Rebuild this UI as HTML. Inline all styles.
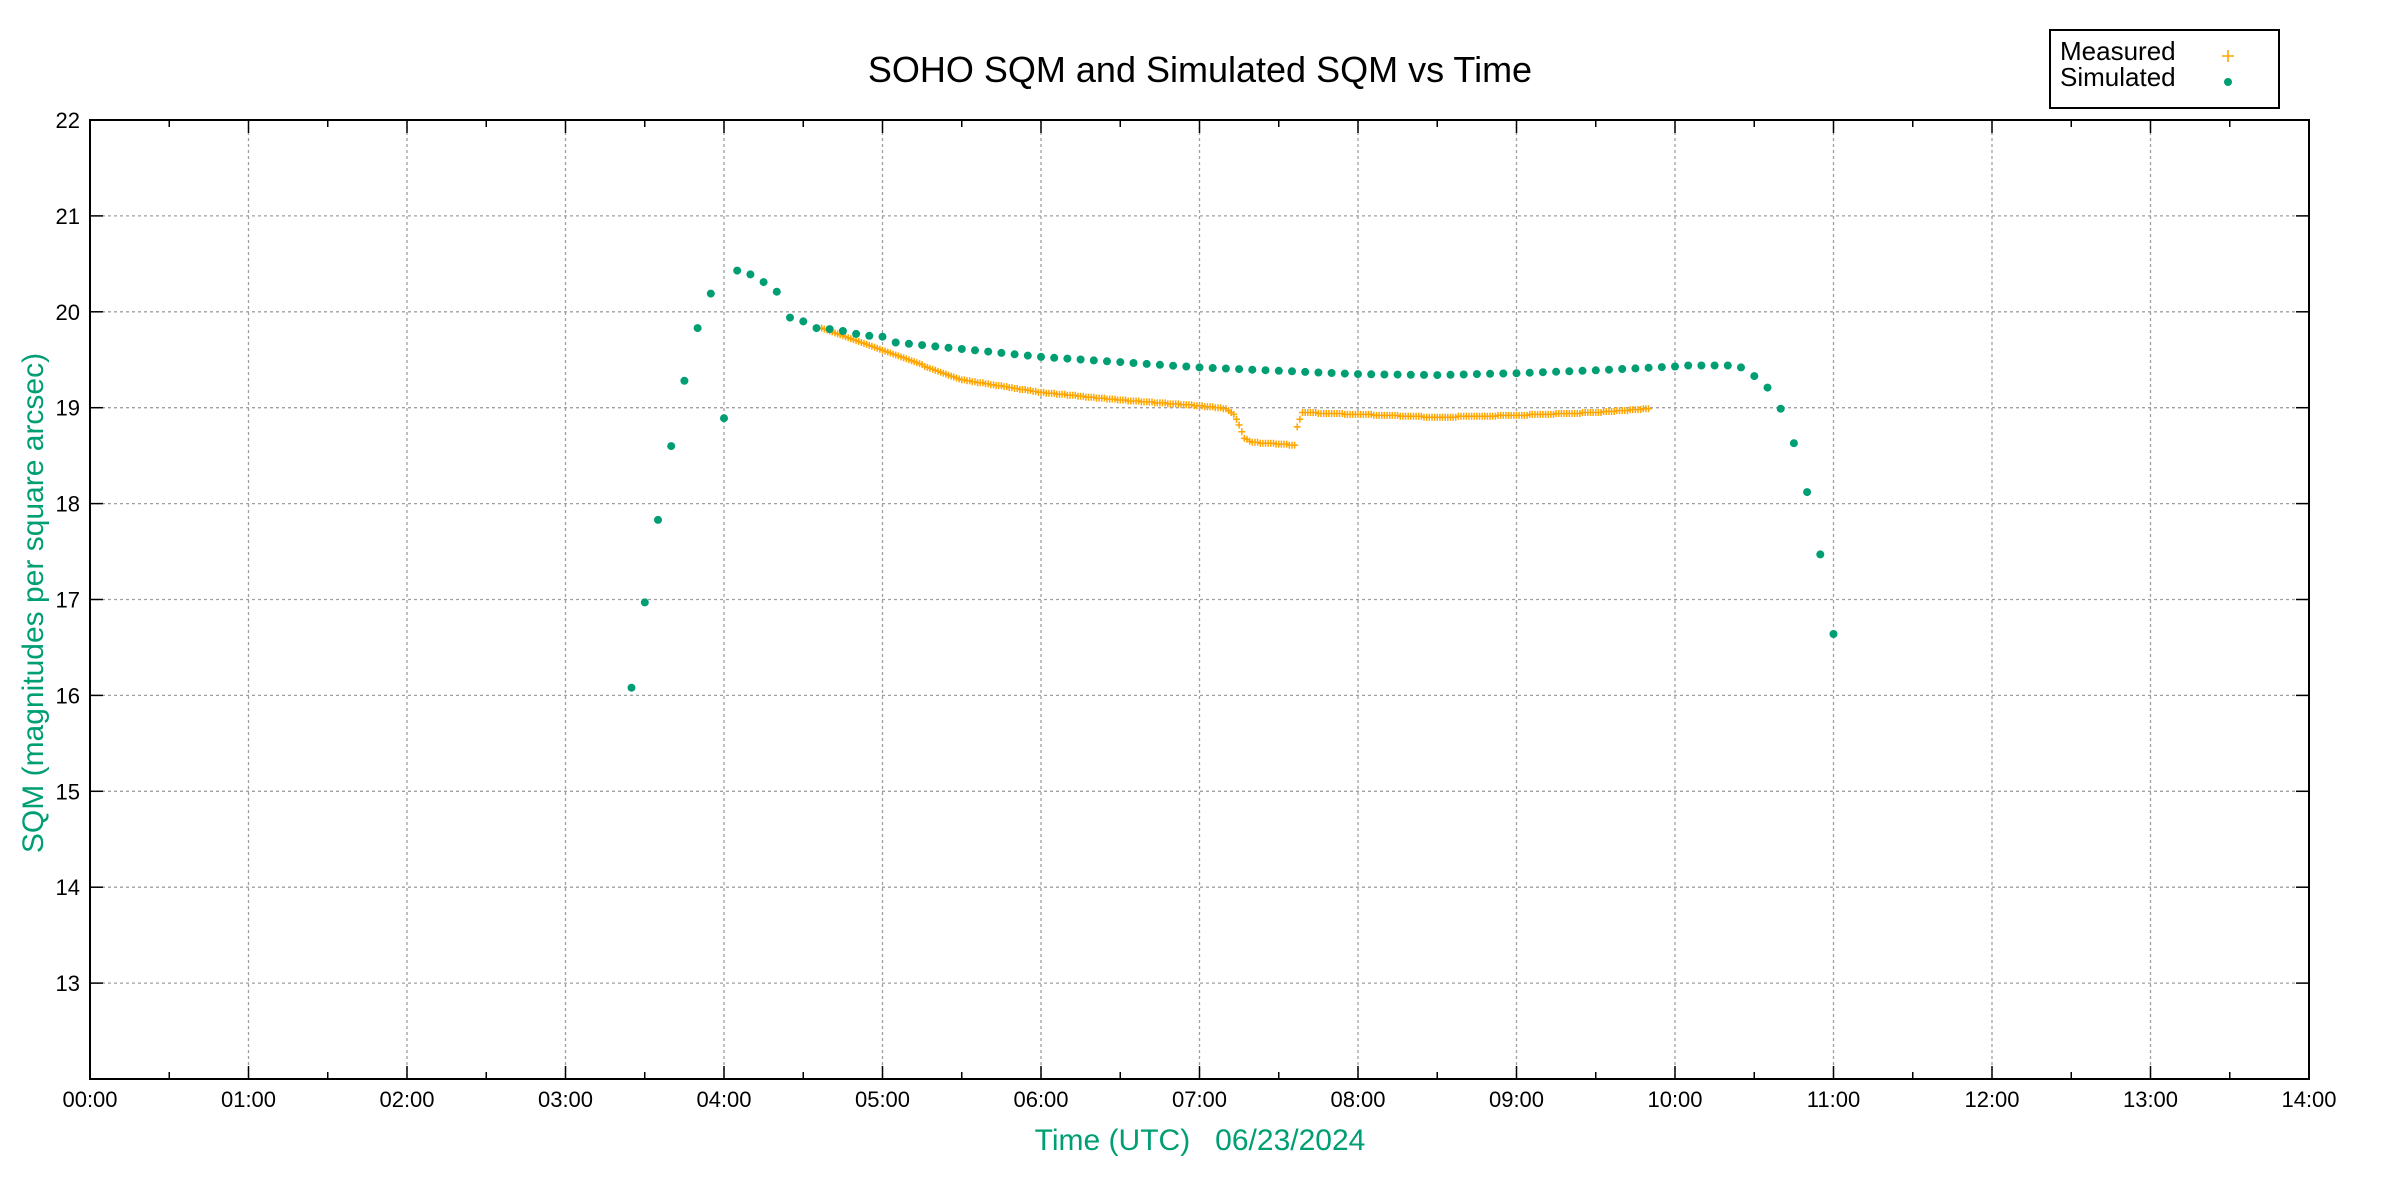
<!DOCTYPE html>
<html><head><meta charset="utf-8"><style>
html,body{margin:0;padding:0;background:#fff;}
svg{display:block;font-family:"Liberation Sans",sans-serif;}
</style></head><body>
<svg id="s" width="2400" height="1200" xmlns="http://www.w3.org/2000/svg">
<rect width="2400" height="1200" fill="#fff"/>
<g id="grid"></g>
<g id="data"></g>
<rect x="90" y="120" width="2219" height="959" fill="none" stroke="#000" stroke-width="2"/>
<g id="ticks"></g>
<text x="1200" y="82" font-size="36" text-anchor="middle" fill="#000">SOHO SQM and Simulated SQM vs Time</text>
<text x="1200" y="1150" font-size="30" text-anchor="middle" fill="#009e73" xml:space="preserve">Time (UTC)   06/23/2024</text>
<text transform="translate(43,603) rotate(-90)" font-size="30" text-anchor="middle" fill="#009e73">SQM (magnitudes per square arcsec)</text>
<rect x="2050" y="30" width="229" height="78" fill="#fff" stroke="#000" stroke-width="2"/>
<text x="2060" y="60" font-size="26">Measured</text>
<text x="2060" y="86" font-size="26">Simulated</text>
<path d="M2222 56h12M2228 50v12" stroke="#ffa500" stroke-width="1.6"/>
<circle cx="2228" cy="82" r="4" fill="#009e73"/>
</svg>
<script>
const L=90,R=2309,T=120,B=1079;
const X=h=>L+h*(R-L)/14, Y=v=>T+(22-v)*(B-T)/10;
let g='',t='';
for(let h=1;h<14;h++){g+=`<line x1="${X(h)}" y1="${T}" x2="${X(h)}" y2="${B}" stroke="#a0a0a0" stroke-width="1.3" stroke-dasharray="3,3"/>`;}
for(let v=13;v<=21;v++){g+=`<line x1="${L}" y1="${Y(v)}" x2="${R}" y2="${Y(v)}" stroke="#a0a0a0" stroke-width="1.3" stroke-dasharray="3,3"/>`;}
for(let h=0;h<=14;h++){const x=X(h);t+=`<line x1="${x}" y1="${B}" x2="${x}" y2="${B-13}" stroke="#000" stroke-width="1.5"/><line x1="${x}" y1="${T}" x2="${x}" y2="${T+13}" stroke="#000" stroke-width="1.5"/>`;
 t+=`<text x="${x}" y="${B+28}" font-size="22" text-anchor="middle">${String(h).padStart(2,'0')}:00</text>`;
 if(h<14){const m=X(h+0.5);t+=`<line x1="${m}" y1="${B}" x2="${m}" y2="${B-7}" stroke="#000" stroke-width="1.5"/><line x1="${m}" y1="${T}" x2="${m}" y2="${T+7}" stroke="#000" stroke-width="1.5"/>`;}}
for(let v=13;v<=22;v++){const y=Y(v);t+=`<line x1="${L}" y1="${y}" x2="${L+13}" y2="${y}" stroke="#000" stroke-width="1.5"/><line x1="${R}" y1="${y}" x2="${R-13}" y2="${y}" stroke="#000" stroke-width="1.5"/><text x="80" y="${y+8}" font-size="22" text-anchor="end">${v}</text>`;}
function interp(k,x){if(x<=k[0][0])return k[0][1];for(let i=0;i<k.length-1;i++){if(x>=k[i][0]&&x<=k[i+1][0]){const f=(x-k[i][0])/(k[i+1][0]-k[i][0]);return k[i][1]+f*(k[i+1][1]-k[i][1]);}}return k[k.length-1][1];}
const hm=(h,m)=>h+m/60;
const mk=[[hm(4,37),19.83],[hm(5,0),19.60],[hm(5,30),19.29],[hm(6,0),19.16],[hm(6,30),19.08],[hm(7,0),19.02],[hm(7,10),18.99],[hm(7,13),18.93],[hm(7,15),18.82],[hm(7,17),18.68],[hm(7,20),18.64],[hm(7,36),18.61],[hm(7,37),18.80],[hm(7,39),18.95],[hm(8,0),18.93],[hm(8,30),18.90],[hm(9,0),18.92],[hm(9,30),18.95],[hm(9,50),18.99]];
let d='';
for(let m=277;m<=590;m++){const h=m/60;let v=interp(mk,h);v=Math.round(v*100)/100;const x=X(h),y=Y(v);d+=`M${(x-3.5).toFixed(1)} ${y.toFixed(1)}h7M${x.toFixed(1)} ${(y-3.5).toFixed(1)}v7`;}
let o=`<path d="${d}" stroke="#ffa500" stroke-width="1.5" fill="none"/>`;
const sv={};
const early=[16.08,16.97,17.83,18.6,19.28,19.83,20.19,18.89,20.43,20.39,20.31,20.21,19.94,19.90,19.83,19.82,19.80,19.77,19.75,19.74];
early.forEach((v,i)=>sv[205+i*5]=v);
const sk=[[5,19.74],[5+1/12,19.68],[6,19.53],[7,19.42],[8,19.35],[8.5,19.34],[9,19.36],[9.5,19.39],[10,19.43],[hm(10,5),19.44],[hm(10,20),19.44]];
for(let m=305;m<=620;m+=5)sv[m]=interp(sk,m/60);
[[625,19.42],[630,19.33],[635,19.21],[640,18.99],[645,18.63],[650,18.12],[655,17.47],[660,16.64]].forEach(a=>sv[a[0]]=a[1]);
for(const m in sv){o+=`<circle cx="${X(m/60).toFixed(1)}" cy="${Y(sv[m]).toFixed(1)}" r="4" fill="#009e73"/>`;}
document.getElementById('grid').innerHTML=g;
document.getElementById('ticks').innerHTML=t;
document.getElementById('data').innerHTML=o;
</script>
</body></html>
